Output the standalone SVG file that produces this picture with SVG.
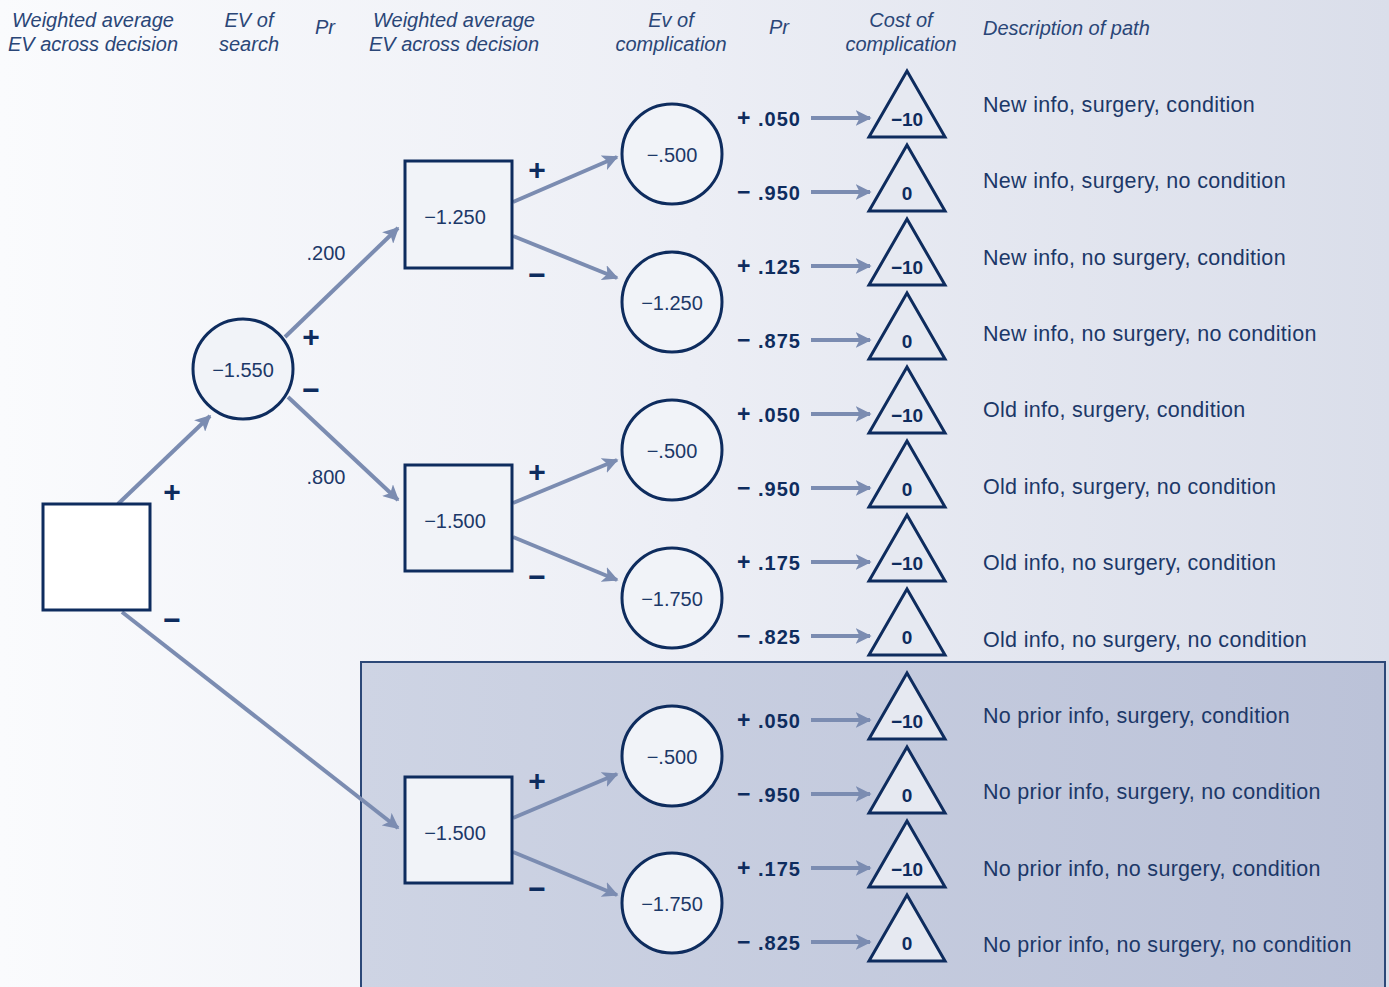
<svg xmlns="http://www.w3.org/2000/svg" width="1389" height="987" viewBox="0 0 1389 987">
<defs>
<linearGradient id="bg" x1="0" y1="0" x2="1" y2="0">
<stop offset="0" stop-color="#fafbfd"/><stop offset="0.5" stop-color="#eceef5"/><stop offset="1" stop-color="#dadeea"/>
</linearGradient>
<linearGradient id="boxg" x1="0" y1="0" x2="1" y2="0">
<stop offset="0" stop-color="#ced4e4"/><stop offset="1" stop-color="#bbc2d8"/>
</linearGradient>
<marker id="ah" viewBox="0 0 10 10" refX="9" refY="5" markerWidth="4" markerHeight="4" markerUnits="strokeWidth" orient="auto">
<path d="M0,0 L10,5 L0,10 L2.5,5 Z" fill="#7b8cb1"/>
</marker>
<style>
.hd{font-family:"Liberation Sans",Arial,sans-serif;font-style:italic;font-size:20px;fill:#2a4677;text-anchor:middle}
.nd{fill:#f1f3f8;stroke:#0e2c5e;stroke-width:3}
.nt{font-family:"Liberation Sans",Arial,sans-serif;font-size:20px;fill:#1c3868;text-anchor:middle}
.tt{font-family:"Liberation Sans",Arial,sans-serif;font-size:19px;font-weight:bold;fill:#0e2c5e;text-anchor:middle}
.pb{font-family:"Liberation Sans",Arial,sans-serif;font-size:20px;font-weight:bold;fill:#0e2c5e;letter-spacing:1px}
.pb tspan{font-size:23px}
.sg{font-family:"Liberation Sans",Arial,sans-serif;font-size:30px;font-weight:bold;fill:#0e2c5e;text-anchor:middle}
.pr{font-family:"Liberation Sans",Arial,sans-serif;font-size:20px;fill:#1c3868;text-anchor:middle}
.ds{font-family:"Liberation Sans",Arial,sans-serif;font-size:21.5px;fill:#1c3868;letter-spacing:0.3px}
.cn{stroke:#7b8cb1;stroke-width:4;fill:none;marker-end:url(#ah)}
.tri{fill:#e6e9f1;stroke:#0e2c5e;stroke-width:3;stroke-linejoin:miter}
</style>
</defs>
<rect x="0" y="0" width="1389" height="987" fill="url(#bg)"/>
<rect id="shaded-box" x="361" y="662" width="1024" height="330" fill="url(#boxg)" stroke="#2c4878" stroke-width="2"/>

<g id="headers">
<text class="hd" x="93" y="27">Weighted average</text>
<text class="hd" x="93" y="51">EV across decision</text>
<text class="hd" x="249" y="27">EV of</text>
<text class="hd" x="249" y="51">search</text>
<text class="hd" x="325" y="34">Pr</text>
<text class="hd" x="454" y="27">Weighted average</text>
<text class="hd" x="454" y="51">EV across decision</text>
<text class="hd" x="671" y="27">Ev of</text>
<text class="hd" x="671" y="51">complication</text>
<text class="hd" x="779" y="34">Pr</text>
<text class="hd" x="901" y="27">Cost of</text>
<text class="hd" x="901" y="51">complication</text>
<text class="hd" x="983" y="35" style="text-anchor:start">Description of path</text>
</g>

<g id="connectors">
<line class="cn" x1="118" y1="504" x2="210" y2="416"/>
<line class="cn" x1="122" y1="612" x2="398" y2="828"/>
<line class="cn" x1="285" y1="337" x2="398" y2="228"/>
<line class="cn" x1="288" y1="397" x2="398" y2="500"/>
<line class="cn" x1="513" y1="202" x2="617" y2="157"/>
<line class="cn" x1="513" y1="236" x2="617" y2="278"/>
<line class="cn" x1="513" y1="503" x2="617" y2="460"/>
<line class="cn" x1="513" y1="537" x2="617" y2="580"/>
<line class="cn" x1="513" y1="818" x2="617" y2="774"/>
<line class="cn" x1="513" y1="852" x2="617" y2="895"/>
<line class="cn" x1="811" y1="118" x2="870" y2="118"/>
<line class="cn" x1="811" y1="192" x2="870" y2="192"/>
<line class="cn" x1="811" y1="266" x2="870" y2="266"/>
<line class="cn" x1="811" y1="340" x2="870" y2="340"/>
<line class="cn" x1="811" y1="414" x2="870" y2="414"/>
<line class="cn" x1="811" y1="488" x2="870" y2="488"/>
<line class="cn" x1="811" y1="562" x2="870" y2="562"/>
<line class="cn" x1="811" y1="636" x2="870" y2="636"/>
<line class="cn" x1="811" y1="720" x2="870" y2="720"/>
<line class="cn" x1="811" y1="794" x2="870" y2="794"/>
<line class="cn" x1="811" y1="868" x2="870" y2="868"/>
<line class="cn" x1="811" y1="942" x2="870" y2="942"/>
</g>

<g id="branch-labels">
<text class="sg" x="172" y="502">+</text>
<text class="sg" x="172" y="630">−</text>
<text class="sg" x="311" y="347">+</text>
<text class="sg" x="311" y="400">−</text>
<text class="pr" x="326" y="260">.200</text>
<text class="pr" x="326" y="484">.800</text>
<text class="sg" x="537" y="180">+</text>
<text class="sg" x="537" y="285">−</text>
<text class="sg" x="537" y="482">+</text>
<text class="sg" x="537" y="587">−</text>
<text class="sg" x="537" y="791">+</text>
<text class="sg" x="537" y="899">−</text>
</g>

<g id="node-root"><rect class="nd" x="43" y="504" width="107" height="106" style="fill:#ffffff"/></g>
<g id="node-search"><circle class="nd" cx="243" cy="369" r="50"/><text class="nt" x="243" y="377">−1.550</text></g>
<g id="node-new"><rect class="nd" x="405" y="161" width="107" height="107"/><text class="nt" x="455" y="224">−1.250</text></g>
<g id="node-old"><rect class="nd" x="405" y="465" width="107" height="106"/><text class="nt" x="455" y="528">−1.500</text></g>
<g id="node-noprior"><rect class="nd" x="405" y="777" width="107" height="106"/><text class="nt" x="455" y="840">−1.500</text></g>

<g id="chance-1"><circle class="nd" cx="672" cy="154" r="50"/><text class="nt" x="672" y="162">−.500</text></g>
<g id="chance-2"><circle class="nd" cx="672" cy="302" r="50"/><text class="nt" x="672" y="310">−1.250</text></g>
<g id="chance-3"><circle class="nd" cx="672" cy="450" r="50"/><text class="nt" x="672" y="458">−.500</text></g>
<g id="chance-4"><circle class="nd" cx="672" cy="598" r="50"/><text class="nt" x="672" y="606">−1.750</text></g>
<g id="chance-5"><circle class="nd" cx="672" cy="756" r="50"/><text class="nt" x="672" y="764">−.500</text></g>
<g id="chance-6"><circle class="nd" cx="672" cy="903" r="50"/><text class="nt" x="672" y="911">−1.750</text></g>

<g id="probabilities">
<text class="pb" x="737" y="126"><tspan>+</tspan> .050</text>
<text class="pb" x="737" y="200"><tspan>−</tspan> .950</text>
<text class="pb" x="737" y="274"><tspan>+</tspan> .125</text>
<text class="pb" x="737" y="348"><tspan>−</tspan> .875</text>
<text class="pb" x="737" y="422"><tspan>+</tspan> .050</text>
<text class="pb" x="737" y="496"><tspan>−</tspan> .950</text>
<text class="pb" x="737" y="570"><tspan>+</tspan> .175</text>
<text class="pb" x="737" y="644"><tspan>−</tspan> .825</text>
<text class="pb" x="737" y="728"><tspan>+</tspan> .050</text>
<text class="pb" x="737" y="802"><tspan>−</tspan> .950</text>
<text class="pb" x="737" y="876"><tspan>+</tspan> .175</text>
<text class="pb" x="737" y="950"><tspan>−</tspan> .825</text>
</g>

<g id="end-1"><polygon class="tri" points="907,71 945,137 869,137"/><text class="tt" x="907" y="126">−10</text></g>
<g id="end-2"><polygon class="tri" points="907,145 945,211 869,211"/><text class="tt" x="907" y="200">0</text></g>
<g id="end-3"><polygon class="tri" points="907,219 945,285 869,285"/><text class="tt" x="907" y="274">−10</text></g>
<g id="end-4"><polygon class="tri" points="907,293 945,359 869,359"/><text class="tt" x="907" y="348">0</text></g>
<g id="end-5"><polygon class="tri" points="907,367 945,433 869,433"/><text class="tt" x="907" y="422">−10</text></g>
<g id="end-6"><polygon class="tri" points="907,441 945,507 869,507"/><text class="tt" x="907" y="496">0</text></g>
<g id="end-7"><polygon class="tri" points="907,515 945,581 869,581"/><text class="tt" x="907" y="570">−10</text></g>
<g id="end-8"><polygon class="tri" points="907,589 945,655 869,655"/><text class="tt" x="907" y="644">0</text></g>
<g id="end-9"><polygon class="tri" points="907,673 945,739 869,739"/><text class="tt" x="907" y="728">−10</text></g>
<g id="end-10"><polygon class="tri" points="907,747 945,813 869,813"/><text class="tt" x="907" y="802">0</text></g>
<g id="end-11"><polygon class="tri" points="907,821 945,887 869,887"/><text class="tt" x="907" y="876">−10</text></g>
<g id="end-12"><polygon class="tri" points="907,895 945,961 869,961"/><text class="tt" x="907" y="950">0</text></g>

<g id="descriptions">
<text class="ds" x="983" y="112">New info, surgery, condition</text>
<text class="ds" x="983" y="188">New info, surgery, no condition</text>
<text class="ds" x="983" y="265">New info, no surgery, condition</text>
<text class="ds" x="983" y="341">New info, no surgery, no condition</text>
<text class="ds" x="983" y="417">Old info, surgery, condition</text>
<text class="ds" x="983" y="494">Old info, surgery, no condition</text>
<text class="ds" x="983" y="570">Old info, no surgery, condition</text>
<text class="ds" x="983" y="647">Old info, no surgery, no condition</text>
<text class="ds" x="983" y="723">No prior info, surgery, condition</text>
<text class="ds" x="983" y="799">No prior info, surgery, no condition</text>
<text class="ds" x="983" y="876">No prior info, no surgery, condition</text>
<text class="ds" x="983" y="952">No prior info, no surgery, no condition</text>
</g>
</svg>
